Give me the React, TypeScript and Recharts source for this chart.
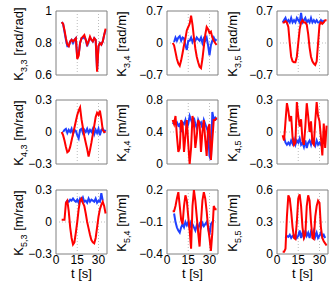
import React from 'react';
import { LineChart, Line, XAxis, YAxis, ReferenceLine, ReferenceArea } from 'recharts';

const t = [4, 5, 6, 7, 8, 9, 10, 11, 12, 13, 14, 15, 16, 17, 18, 19, 20, 21, 22, 23, 24, 25, 26, 27, 28, 29, 30, 31, 32, 33, 34, 35];
const xTicks = [0, 15, 30];

const k33Red = [0.93, 0.92, 0.88, 0.83, 0.79, 0.78, 0.81, 0.82, 0.81, 0.82, 0.83, 0.70, 0.72, 0.80, 0.83, 0.84, 0.85, 0.82, 0.79, 0.81, 0.84, 0.82, 0.81, 0.83, 0.82, 0.62, 0.78, 0.80, 0.79, 0.81, 0.85, 0.89];
const k33Blue = [0.93, 0.92, 0.87, 0.82, 0.78, 0.78, 0.81, 0.82, 0.80, 0.82, 0.83, 0.71, 0.73, 0.80, 0.83, 0.83, 0.84, 0.82, 0.78, 0.81, 0.83, 0.82, 0.81, 0.83, 0.82, 0.63, 0.78, 0.80, 0.79, 0.81, 0.85, 0.88];

const k34Red = [0.0, -0.05, -0.2, -0.35, -0.45, -0.5, -0.38, -0.22, -0.05, 0.1, 0.28, 0.35, 0.42, 0.6, 0.4, 0.12, -0.12, -0.3, -0.42, -0.52, -0.55, -0.35, -0.08, 0.18, 0.35, 0.3, 0.22, 0.25, 0.12, 0.05, 0.0, -0.04];
const k34Blue = [null, 0.02, 0.12, 0.05, 0.12, 0.15, 0.05, 0.12, 0.1, -0.05, -0.15, 0.05, 0.05, 0.12, 0.02, 0.1, 0.05, 0.12, 0.08, 0.05, 0.12, 0.0, 0.1, 0.05, 0.12, -0.05, -0.27, -0.05, 0.05, 0.12, 0.05, 0.08];

const k35Red = [0.45, 0.45, 0.48, 0.45, 0.35, 0.0, -0.3, -0.4, -0.42, -0.42, -0.3, 0.0, 0.3, 0.45, 0.5, 0.45, 0.45, 0.4, 0.2, -0.1, -0.3, -0.4, -0.45, -0.48, -0.4, 0.0, 0.4, 0.45, 0.42, 0.45, 0.5, 0.5];
const k35Blue = [0.45, 0.5, 0.55, 0.45, 0.5, 0.45, 0.55, 0.45, 0.5, 0.45, 0.55, 0.5, 0.45, 0.66, 0.45, 0.5, 0.55, 0.45, 0.5, 0.45, 0.55, 0.45, 0.5, 0.45, 0.5, 0.45, 0.45, 0.5, 0.45, 0.5, null, null];

const k43Red = [0.0, -0.03, -0.08, -0.14, -0.19, -0.18, -0.14, -0.08, -0.02, 0.04, 0.1, 0.16, 0.2, 0.23, 0.12, 0.04, -0.04, -0.1, -0.16, -0.23, -0.17, -0.1, -0.02, 0.06, 0.14, 0.18, 0.16, 0.2, 0.12, 0.02, 0.0, 0.0];
const k43Blue = [null, 0.0, 0.02, 0.03, -0.01, 0.02, 0.0, 0.03, -0.02, 0.02, 0.01, -0.03, -0.06, 0.02, 0.03, -0.01, 0.02, 0.0, 0.03, -0.01, 0.02, 0.0, 0.03, -0.02, 0.02, -0.01, 0.03, -0.03, 0.02, 0.03, 0.0, 0.02];

const k44Red = [0.55, 0.5, 0.6, 0.35, 0.15, 0.2, 0.55, 0.5, 0.15, 0.35, 0.55, 0.25, 0.0, 0.2, 0.6, 0.5, 0.2, 0.35, 0.55, 0.5, 0.15, 0.4, 0.55, 0.3, 0.1, 0.45, 0.5, 0.05, 0.3, 0.55, 0.55, 0.58];
const k44Blue = [0.5, 0.52, 0.5, 0.52, 0.48, 0.5, 0.4, 0.52, 0.5, 0.55, 0.45, 0.5, 0.6, 0.55, 0.5, 0.58, 0.5, 0.45, 0.55, 0.5, 0.52, 0.45, 0.55, 0.5, 0.45, 0.4, 0.1, 0.05, 0.65, 0.55, 0.58, 0.55];

const k45Red = [-0.03, -0.08, 0.1, 0.27, 0.2, 0.1, 0.15, -0.05, -0.12, -0.1, 0.28, 0.15, 0.05, 0.12, -0.08, -0.12, 0.05, 0.27, 0.15, 0.0, 0.1, -0.1, -0.12, 0.1, 0.28, 0.15, 0.1, -0.05, -0.22, 0.08, -0.15, 0.06];
const k45Blue = [null, -0.05, -0.1, -0.12, -0.1, -0.12, -0.08, -0.11, -0.07, -0.12, -0.08, -0.1, -0.06, -0.12, -0.1, -0.14, -0.08, -0.15, -0.1, -0.08, -0.12, -0.06, -0.1, -0.13, -0.08, -0.12, -0.1, -0.12, -0.08, -0.06, -0.05, null];

const k53Red = [0.02, 0.02, 0.02, 0.18, 0.2, 0.1, -0.05, -0.15, -0.21, -0.19, -0.1, 0.0, 0.12, 0.2, 0.22, 0.18, 0.15, 0.08, 0.0, -0.06, -0.12, -0.17, -0.19, -0.2, -0.15, -0.05, 0.05, 0.12, 0.16, 0.19, 0.15, 0.08];
const k53Blue = [null, null, null, 0.18, 0.2, 0.19, 0.21, 0.2, 0.22, 0.2, 0.19, 0.21, 0.18, 0.22, 0.2, 0.23, 0.19, 0.2, 0.18, 0.22, 0.19, 0.21, 0.2, 0.19, 0.22, 0.18, 0.2, 0.19, 0.27, 0.2, null, null];

const k54Red = [0.0, 0.0, 0.05, 0.12, 0.18, 0.05, -0.08, -0.12, 0.05, 0.15, 0.1, -0.05, -0.18, -0.35, 0.05, 0.2, 0.1, -0.05, -0.2, -0.33, -0.1, 0.1, 0.18, 0.12, 0.0, -0.15, -0.25, -0.37, -0.2, 0.05, 0.02, 0.02];
const k54Blue = [null, -0.02, -0.1, -0.15, -0.18, -0.2, -0.15, -0.12, -0.15, -0.1, -0.13, -0.1, -0.16, -0.1, -0.12, -0.15, -0.18, -0.13, -0.16, -0.12, -0.15, -0.11, -0.14, -0.12, -0.1, -0.15, -0.22, -0.12, -0.1, -0.08, null, null];

const k55Red = [0.02, 0.02, 0.05, 0.35, 0.55, 0.52, 0.4, 0.25, 0.15, 0.14, 0.3, 0.52, 0.56, 0.45, 0.25, 0.15, 0.18, 0.45, 0.55, 0.5, 0.3, 0.15, 0.14, 0.35, 0.45, 0.5, 0.48, 0.25, 0.15, 0.12, 0.1, 0.08];
const k55Blue = [null, null, 0.15, 0.17, 0.16, 0.18, 0.15, 0.17, 0.16, 0.18, 0.15, 0.17, 0.22, 0.15, 0.2, 0.16, 0.22, 0.17, 0.2, 0.15, 0.21, 0.18, 0.22, 0.16, 0.2, 0.15, 0.17, 0.2, 0.16, 0.18, 0.15, null];

const FONT = '"Liberation Sans", Arial, Helvetica, sans-serif';
const plotLefts = [56, 167, 277];
const plotTops = [11, 100, 190];
const labelCx = [18.5, 122, 232.5];
const PW = 51;
const PH = 64;

type PanelProps = {
  row: number;
  col: number;
  red: (number | null)[];
  blue: (number | null)[];
  domain: [number, number];
  ticks: number[];
  sub: string;
  unit: string;
};

const fmt = (v: number) => String(v).replace('-', '\u2212');

function Panel({ row, col, red, blue, domain, ticks, sub, unit }: PanelProps) {
  const showX = row === 2;
  const data = t.map((x, i) => ({ t: x, red: red[i], blue: blue[i] }));
  const left = plotLefts[col] - 56;
  const top = plotTops[row] - 10;
  const bottom = showX ? 0 : 10;
  const height = 10 + PH + (showX ? 18 : bottom);
  const mid = ticks[1];
  return (
    <>
      <div style={{ position: 'absolute', left, top }}>
        <LineChart
          width={56 + PW + 4}
          height={height}
          data={data}
          margin={{ top: 10, right: 4, bottom, left: 0 }}
        >
          <XAxis
            type="number"
            dataKey="t"
            domain={[0, 36]}
            ticks={xTicks}
            allowDataOverflow
            hide={!showX}
            height={18}
            tickLine={false}
            axisLine={false}
            tickSize={0}
            tickMargin={1}
            interval={0}
            tick={{ fill: '#000', fontSize: 12, fontFamily: FONT }}
          />
          <YAxis
            type="number"
            domain={domain}
            ticks={ticks}
            allowDataOverflow
            width={56}
            tickLine={false}
            axisLine={false}
            tickSize={0}
            tickMargin={4}
            interval={0}
            tickFormatter={fmt}
            tick={{ fill: '#000', fontSize: 12, fontFamily: FONT }}
          />
          <ReferenceLine x={15} stroke="#bdbdbd" strokeDasharray="1 2" />
          <ReferenceLine x={30} stroke="#bdbdbd" strokeDasharray="1 2" />
          <ReferenceLine y={mid} stroke="#bdbdbd" strokeDasharray="1 2" />
          <Line type="linear" dataKey="blue" stroke="#2040ff" strokeWidth={2} dot={false} isAnimationActive={false} />
          <Line type="linear" dataKey="red" stroke="#ff0000" strokeWidth={2} dot={false} isAnimationActive={false} />
          <ReferenceArea x1={0} x2={36} y1={domain[0]} y2={domain[1]} fill="none" stroke="#808080" strokeWidth={1} />
        </LineChart>
      </div>
      <div
        style={{
          position: 'absolute',
          left: labelCx[col],
          top: plotTops[row] + PH / 2 + 1,
          transform: 'translate(-50%, -50%) rotate(-90deg)',
          whiteSpace: 'nowrap',
          fontFamily: FONT,
          fontSize: 13,
          lineHeight: '13px',
          color: '#000',
        }}
      >
        K<span style={{ fontSize: 9, position: 'relative', top: 4 }}>{sub}</span> [{unit}]
      </div>
      {showX && (
        <div
          style={{
            position: 'absolute',
            left: plotLefts[col] + PW / 2,
            top: 267,
            transform: 'translateX(-50%)',
            whiteSpace: 'nowrap',
            fontFamily: FONT,
            fontSize: 13,
            lineHeight: '13px',
            color: '#000',
          }}
        >
          t [s]
        </div>
      )}
    </>
  );
}

export default function App() {
  return (
    <div style={{ position: 'absolute', left: 0, top: 0, width: 332, height: 285, background: '#fff' }}>
      <Panel row={0} col={0} red={k33Red} blue={k33Blue} domain={[0.6, 1]} ticks={[0.6, 0.8, 1]} sub="3,3" unit="rad/rad" />
      <Panel row={0} col={1} red={k34Red} blue={k34Blue} domain={[-0.7, 0.7]} ticks={[-0.7, 0, 0.7]} sub="3,4" unit="rad/m" />
      <Panel row={0} col={2} red={k35Red} blue={k35Blue} domain={[-0.7, 0.7]} ticks={[-0.7, 0, 0.7]} sub="3,5" unit="rad/m" />
      <Panel row={1} col={0} red={k43Red} blue={k43Blue} domain={[-0.3, 0.3]} ticks={[-0.3, 0, 0.3]} sub="4,3" unit="m/rad" />
      <Panel row={1} col={1} red={k44Red} blue={k44Blue} domain={[0, 0.8]} ticks={[0, 0.4, 0.8]} sub="4,4" unit="m/m" />
      <Panel row={1} col={2} red={k45Red} blue={k45Blue} domain={[-0.3, 0.3]} ticks={[-0.3, 0, 0.3]} sub="4,5" unit="m/m" />
      <Panel row={2} col={0} red={k53Red} blue={k53Blue} domain={[-0.3, 0.3]} ticks={[-0.3, 0, 0.3]} sub="5,3" unit="m/rad" />
      <Panel row={2} col={1} red={k54Red} blue={k54Blue} domain={[-0.4, 0.2]} ticks={[-0.4, -0.1, 0.2]} sub="5,4" unit="m/m" />
      <Panel row={2} col={2} red={k55Red} blue={k55Blue} domain={[0, 0.6]} ticks={[0, 0.3, 0.6]} sub="5,5" unit="m/m" />
    </div>
  );
}
